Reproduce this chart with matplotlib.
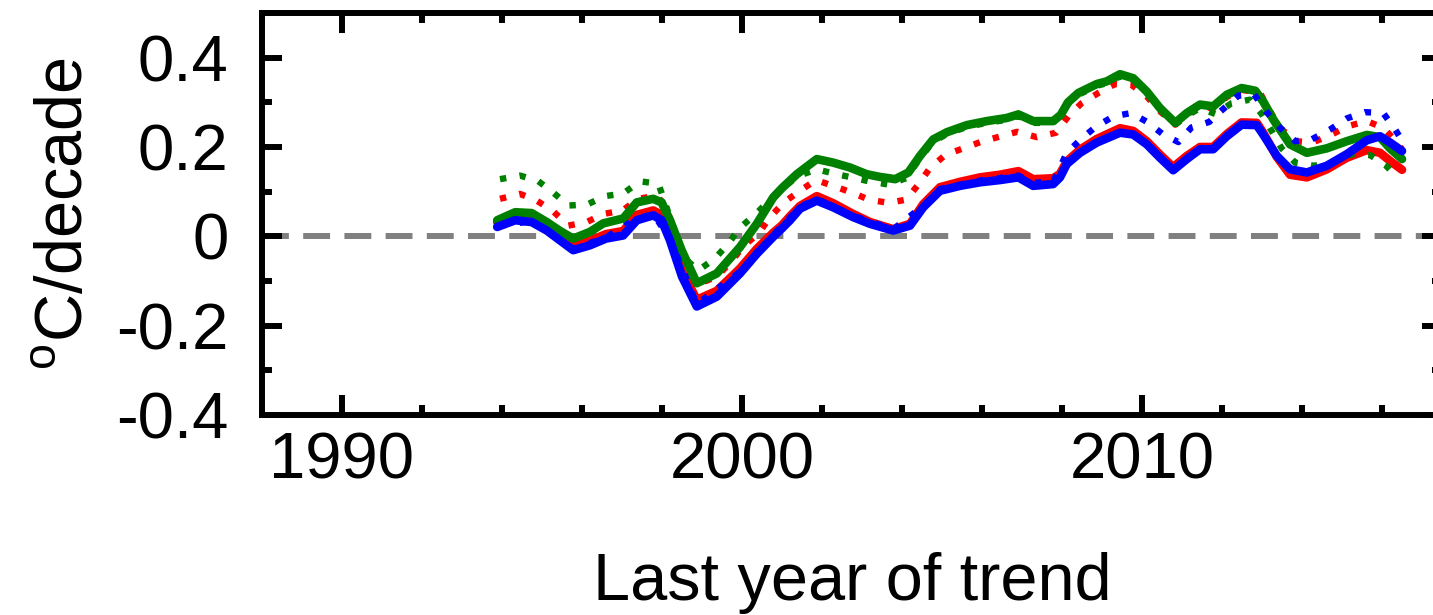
import matplotlib
matplotlib.use("Agg")
import matplotlib.pyplot as plt
from matplotlib.ticker import FixedLocator, MultipleLocator, FixedFormatter

plt.rcParams['font.family'] = ['Liberation Sans', 'DejaVu Sans']
plt.rcParams['mathtext.fontset'] = 'custom'
plt.rcParams['mathtext.rm'] = 'Liberation Sans'

# ---------------- data ----------------
blue_x = [1993.88, 1994.33, 1994.74, 1995.12, 1995.78, 1996.2, 1996.6, 1997.03, 1997.37,
          1997.78, 1997.99, 1998.2, 1998.5, 1998.87, 1999.37, 1999.95, 2000.37, 2000.78,
          2001.0, 2001.2, 2001.45, 2001.87, 2002.28, 2002.78, 2003.2, 2003.78, 2004.2,
          2004.53, 2004.95, 2005.45, 2005.95, 2006.45, 2006.91, 2007.28, 2007.78, 2007.95,
          2008.12, 2008.45, 2008.87, 2009.45, 2009.78, 2010.12, 2010.45, 2010.78, 2011.12,
          2011.45, 2011.78, 2012.12, 2012.49, 2012.87, 2013.03, 2013.37, 2013.7, 2014.12,
          2014.62, 2015.12, 2015.62, 2015.95, 2016.2, 2016.5]
blue_solid = [0.021, 0.036, 0.032, 0.013, -0.031, -0.020, -0.005, 0.002, 0.036,
              0.047, 0.036, -0.009, -0.090, -0.157, -0.135, -0.083, -0.039, -0.001,
              0.018, 0.036, 0.062, 0.080, 0.065, 0.043, 0.028, 0.013, 0.024,
              0.065, 0.102, 0.113, 0.121, 0.126, 0.132, 0.113, 0.117, 0.132,
              0.162, 0.187, 0.210, 0.232, 0.228, 0.206, 0.176, 0.148, 0.173,
              0.195, 0.195, 0.224, 0.250, 0.249, 0.228, 0.180, 0.150, 0.143,
              0.158, 0.184, 0.215, 0.224, 0.210, 0.191]
red_solid = [0.032, 0.045, 0.042, 0.022, -0.022, -0.010, 0.005, 0.012, 0.048,
             0.058, 0.048, 0.002, -0.078, -0.142, -0.122, -0.072, -0.028, 0.008,
             0.025, 0.045, 0.068, 0.090, 0.074, 0.050, 0.032, 0.016, 0.028,
             0.072, 0.110, 0.122, 0.132, 0.138, 0.146, 0.128, 0.130, 0.140,
             0.168, 0.194, 0.218, 0.242, 0.236, 0.213, 0.183, 0.155, 0.180,
             0.200, 0.200, 0.229, 0.255, 0.254, 0.232, 0.178, 0.138, 0.132,
             0.150, 0.176, 0.193, 0.187, 0.169, 0.149]

green_x = [1993.88, 1994.33, 1994.74, 1995.12, 1995.45, 1995.78, 1996.2, 1996.53, 1997.03,
           1997.37, 1997.78, 1997.99, 1998.2, 1998.49, 1998.87, 1999.37, 1999.95, 2000.37,
           2000.78, 2001.0, 2001.37, 2001.87, 2002.28, 2002.7, 2003.12, 2003.45, 2003.83,
           2004.16, 2004.45, 2004.78, 2005.12, 2005.62, 2006.12, 2006.62, 2006.91, 2007.28,
           2007.78, 2007.97, 2008.15, 2008.41, 2008.87, 2009.12, 2009.45, 2009.78, 2010.12,
           2010.45, 2010.83, 2011.12, 2011.45, 2011.78, 2012.12, 2012.49, 2012.83, 2013.03,
           2013.28, 2013.7, 2014.12, 2014.62, 2015.12, 2015.62, 2015.95, 2016.2, 2016.5]
green_solid = [0.036, 0.054, 0.052, 0.032, 0.012, -0.005, 0.010, 0.029, 0.040,
               0.076, 0.084, 0.076, 0.036, -0.031, -0.105, -0.083, -0.024, 0.028,
               0.087, 0.108, 0.139, 0.173, 0.165, 0.154, 0.139, 0.133, 0.128,
               0.143, 0.180, 0.217, 0.233, 0.249, 0.258, 0.265, 0.273, 0.258,
               0.258, 0.272, 0.300, 0.321, 0.341, 0.347, 0.363, 0.354, 0.324,
               0.287, 0.254, 0.276, 0.295, 0.291, 0.317, 0.332, 0.326, 0.302,
               0.262, 0.206, 0.187, 0.197, 0.213, 0.227, 0.222, 0.197, 0.173]

red_dot_x = [1993.95, 1994.45, 1994.87, 1995.28, 1995.66, 1996.12, 1996.53, 1997.02, 1997.4,
             1997.87, 1998.07, 1998.24, 1998.5, 1998.87, 1999.1, 1999.37, 1999.74, 2000.03,
             2000.41, 2000.7, 2001.05, 2001.45, 2001.85, 2002.28, 2002.74, 2003.18, 2003.66,
             2004.1, 2004.41, 2004.7, 2005.08, 2005.53, 2005.99, 2006.43, 2006.88, 2007.37,
             2007.85, 2008.16, 2008.49, 2008.91, 2009.33, 2009.74, 2010.12, 2010.45, 2010.83,
             2011.12, 2011.45, 2011.78, 2012.12, 2012.49, 2012.95, 2013.2, 2013.45, 2013.83,
             2014.26, 2014.72, 2015.16, 2015.62, 2016.03, 2016.37, 2016.5]
red_dotted = [0.084, 0.095, 0.080, 0.056, 0.024, 0.032, 0.050, 0.058, 0.084,
              0.091, 0.070, 0.030, -0.035, -0.100, -0.100, -0.090, -0.056, -0.022,
              0.006, 0.043, 0.076, 0.102, 0.126, 0.113, 0.098, 0.082, 0.075,
              0.082, 0.116, 0.153, 0.182, 0.197, 0.212, 0.223, 0.234, 0.222,
              0.232, 0.269, 0.298, 0.321, 0.341, 0.339, 0.313, 0.280, 0.250,
              0.272, 0.290, 0.287, 0.312, 0.328, 0.321, 0.280, 0.243, 0.213,
              0.210, 0.227, 0.247, 0.258, 0.243, 0.211, 0.195]

blue_dot_x = [1993.95, 1994.74, 1995.78, 1996.6, 1997.37, 1997.78, 1998.2, 1998.87, 1999.95,
              2000.78, 2001.45, 2001.87, 2002.78, 2003.78, 2004.53, 2004.95, 2005.95, 2006.91,
              2007.28, 2007.78, 2008.12, 2008.49, 2008.87, 2009.3, 2009.73, 2010.13, 2010.53,
              2010.91, 2011.24, 2011.68, 2012.03, 2012.41, 2012.8, 2013.1, 2013.45, 2013.83,
              2014.24, 2014.7, 2015.12, 2015.57, 2016.03, 2016.33, 2016.45]
blue_dotted = [0.024, 0.034, -0.028, -0.002, 0.040, 0.050, -0.005, -0.152, -0.079,
               0.003, 0.066, 0.084, 0.046, 0.016, 0.068, 0.106, 0.125, 0.136,
               0.120, 0.122, 0.187, 0.219, 0.247, 0.269, 0.276, 0.256, 0.228,
               0.211, 0.244, 0.256, 0.285, 0.315, 0.318, 0.280, 0.243, 0.213,
               0.217, 0.239, 0.264, 0.278, 0.276, 0.239, 0.222]

green_dot_x = [1993.95, 1994.45, 1994.9, 1995.28, 1995.66, 1996.12, 1996.58, 1997.03, 1997.45,
               1997.91, 1998.07, 1998.24, 1998.4, 1998.57, 1998.91, 1999.32, 1999.66, 1999.95,
               2000.4, 2000.9, 2001.4, 2001.87, 2002.37, 2002.74, 2003.18, 2003.66, 2004.1,
               2004.45, 2004.78, 2005.12, 2005.62, 2006.12, 2006.62, 2006.91, 2007.28, 2007.78,
               2008.12, 2008.41, 2008.87, 2009.12, 2009.45, 2009.78, 2010.12, 2010.45, 2010.83,
               2011.12, 2011.45, 2011.83, 2012.24, 2012.7, 2012.99, 2013.24, 2013.49, 2013.83,
               2014.3, 2014.78, 2015.24, 2015.7, 2016.08, 2016.41]
green_dotted = [0.128, 0.136, 0.124, 0.098, 0.069, 0.071, 0.090, 0.096, 0.123,
                0.118, 0.076, 0.032, -0.009, -0.050, -0.076, -0.050, -0.016, 0.019,
                0.055, 0.100, 0.135, 0.150, 0.139, 0.132, 0.123, 0.116, 0.130,
                0.175, 0.212, 0.229, 0.245, 0.254, 0.261, 0.269, 0.254, 0.254,
                0.294, 0.317, 0.337, 0.343, 0.358, 0.350, 0.320, 0.283, 0.250,
                0.270, 0.287, 0.274, 0.298, 0.306, 0.274, 0.236, 0.197, 0.165,
                0.158, 0.165, 0.184, 0.182, 0.160, 0.130]

x_major = [1990, 2000, 2010]
x_labels = ['1990', '2000', '2010']
y_major = [-0.4, -0.2, 0.0, 0.2, 0.4]
y_labels = ['-0.4', '-0.2', '0', '0.2', '0.4']

# ---------------- figure ----------------
W, H = 1433, 615
fig = plt.figure(figsize=(W / 100, H / 100), dpi=100)
ax = fig.add_axes([262 / W, (H - 415) / H, (1442 - 262) / W, (415 - 13) / H])

BLUE = '#0000ff'
RED = '#ff0000'
GREEN = '#008000'
solid_lw = 6.2
dot_lw = 4.6
dot_style = (0, (1, 2.1))

ax.axhline(0, color='#808080', lw=4.3, dashes=(4.5, 2.4), zorder=1)

ax.plot(blue_x, red_solid, color=RED, lw=solid_lw, solid_capstyle='round',
        solid_joinstyle='round', zorder=2)
ax.plot(red_dot_x, red_dotted, color=RED, lw=dot_lw, linestyle=dot_style,
        dash_capstyle='butt', zorder=3)
ax.plot(green_x, green_solid, color=GREEN, lw=solid_lw, solid_capstyle='round',
        solid_joinstyle='round', zorder=4)
ax.plot(green_dot_x, green_dotted, color=GREEN, lw=dot_lw, linestyle=dot_style,
        dash_capstyle='butt', zorder=5)
ax.plot(blue_x, blue_solid, color=BLUE, lw=solid_lw, solid_capstyle='round',
        solid_joinstyle='round', zorder=6)
ax.plot(blue_dot_x, blue_dotted, color=BLUE, lw=dot_lw, linestyle=dot_style,
        dash_capstyle='butt', zorder=7)

ax.set_xlim(1988, 2017.5)
ax.set_ylim(-0.4, 0.5)

ax.xaxis.set_major_locator(FixedLocator(x_major))
ax.xaxis.set_major_formatter(FixedFormatter(x_labels))
ax.xaxis.set_minor_locator(MultipleLocator(2))
ax.yaxis.set_major_locator(FixedLocator(y_major))
ax.yaxis.set_major_formatter(FixedFormatter(y_labels))
ax.yaxis.set_minor_locator(MultipleLocator(0.1))

for s in ax.spines.values():
    s.set_linewidth(4.3)
    s.set_color('black')

ax.tick_params(which='both', direction='in', top=True, right=True, color='black')
ax.tick_params(which='major', length=14.5, width=4.3, labelsize=47)
ax.tick_params(which='minor', length=7.5, width=4.3)
ax.tick_params(axis='y', which='major', pad=24)
ax.tick_params(axis='x', which='major', pad=12)

ax.set_xlabel('Last year of trend', fontsize=48)
ax.set_ylabel(r'$^{\mathrm{o}}$C/decade', fontsize=48)
ax.xaxis.set_label_coords(0.5, -0.34)
ax.xaxis.label.set_va('top')
ax.yaxis.set_label_coords(-0.14, 0.5)

fig.savefig('out.png', dpi=100)
